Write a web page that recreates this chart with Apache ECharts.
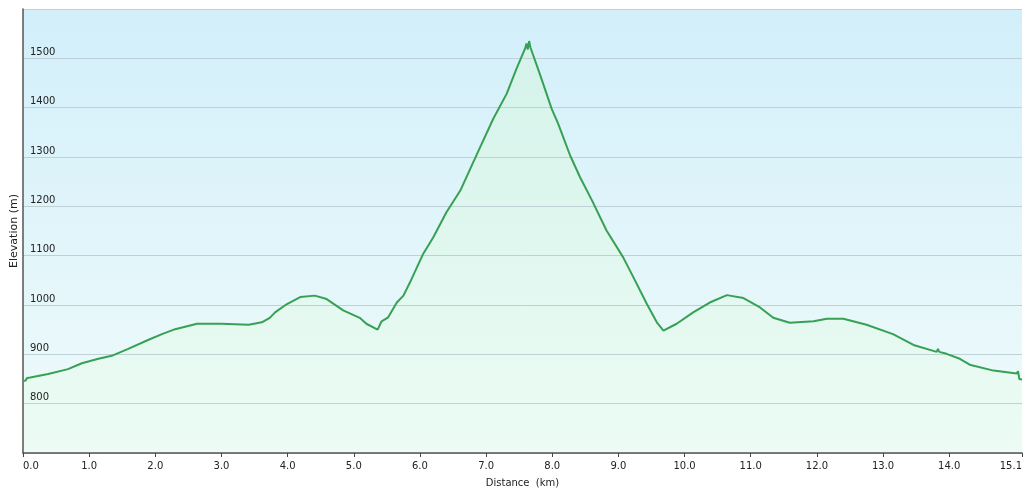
<!DOCTYPE html>
<html>
<head>
<meta charset="utf-8">
<script src="https://cdn.jsdelivr.net/npm/echarts@6/dist/echarts.min.js"></script>
<style>
html,body{margin:0;padding:0;background:#fff;}
#chart{width:1024px;height:493px;}
</style>
</head>
<body>
<div id="chart"></div>
<script>
const distanceKm = [0, 0.04, 0.06, 0.11, 0.38, 0.68, 0.89, 1.14, 1.34, 1.59, 1.89, 2.10, 2.30, 2.63, 3.00, 3.41, 3.61, 3.73, 3.81, 3.99, 4.19, 4.41, 4.59, 4.84, 5.09, 5.19, 5.36, 5.42, 5.52, 5.65, 5.75, 5.85, 6.05, 6.20, 6.40, 6.61, 6.76, 6.91, 7.11, 7.31, 7.46, 7.59, 7.61, 7.63, 7.65, 7.67, 7.69, 7.81, 7.99, 8.09, 8.27, 8.42, 8.60, 8.82, 9.07, 9.25, 9.43, 9.58, 9.68, 9.88, 10.13, 10.38, 10.64, 10.89, 11.14, 11.34, 11.59, 11.95, 12.15, 12.40, 12.75, 13.15, 13.46, 13.81, 13.83, 13.85, 13.96, 14.16, 14.31, 14.67, 15.02, 15.04, 15.06, 15.10];
const elevationM = [846, 847, 852, 853, 860, 870, 882, 891, 897, 911, 929, 941, 951, 962, 962, 960, 965, 974, 985, 1002, 1016, 1019, 1012, 989, 974, 962, 950, 967, 975, 1005, 1019, 1046, 1104, 1137, 1188, 1232, 1276, 1320, 1378, 1428, 1479, 1520, 1530, 1518, 1535, 1522, 1520, 1469, 1398, 1367, 1303, 1259, 1212, 1151, 1097, 1050, 1002, 965, 948, 962, 985, 1005, 1020, 1014, 995, 974, 964, 967, 972, 972, 960, 941, 919, 905, 911, 905, 901, 891, 879, 867, 861, 866, 850, 849];
const xTickValues = [0, 1, 2, 3, 4, 5, 6, 7, 8, 9, 10, 11, 12, 13, 14, 15.1];
const yTickValues = [800, 900, 1000, 1100, 1200, 1300, 1400, 1500];

const chart = echarts.init(document.getElementById('chart'), null, {renderer: 'canvas'});
const pts = distanceKm.map((d, i) => [d, elevationM[i]]);
chart.setOption({
  animation: false,
  grid: {
    left: 23, right: 2, top: 9, bottom: 40,
    outerBoundsMode: 'none',
    containLabel: false,
    show: true,
    borderWidth: 0,
    backgroundColor: new echarts.graphic.LinearGradient(0, 0, 0, 1, [
      {offset: 0, color: '#d2effa'},
      {offset: 1, color: '#f0fbfb'}
    ])
  },
  xAxis: {
    type: 'value', min: 0, max: 15.1, interval: 1,
    name: 'Distance  (km)', nameLocation: 'middle', nameGap: 25,
    nameMoveOverlap: false,
    nameTextStyle: {fontFamily: 'DejaVu Sans', fontSize: 10, color: '#222'},
    axisLine: {lineStyle: {color: '#555', width: 1.5}},
    axisTick: {show: true, length: 4, lineStyle: {color: '#444'}, customValues: xTickValues},
    axisLabel: {
      fontFamily: 'DejaVu Sans', fontSize: 10, color: '#222', margin: 8,
      customValues: xTickValues,
      alignMinLabel: 'left', alignMaxLabel: 'right',
      formatter: v => v.toFixed(1)
    },
    splitLine: {show: false},
    z: 6
  },
  yAxis: {
    type: 'value', min: 700, max: 1600, interval: 100,
    name: 'Elevation (m)', nameLocation: 'middle', nameGap: 9, nameRotate: 90,
    nameMoveOverlap: false,
    nameTextStyle: {fontFamily: 'DejaVu Sans', fontSize: 11, color: '#222', verticalAlign: 'middle', align: 'center'},
    axisLine: {show: true, lineStyle: {color: '#555', width: 1.5}},
    axisTick: {show: false},
    axisLabel: {
      inside: true, margin: 7, verticalAlign: 'bottom', padding: [0, 0, 1, 0],
      fontFamily: 'DejaVu Sans', fontSize: 10, color: '#222',
      customValues: yTickValues,
      formatter: v => String(v)
    },
    splitLine: {show: true, lineStyle: {color: '#c0d1d6', width: 1}},
    z: 4
  },
  series: [{
    type: 'line',
    data: pts,
    showSymbol: false,
    symbol: 'none',
    lineStyle: {width: 0, opacity: 0},
    areaStyle: {
      origin: 'start',
      color: new echarts.graphic.LinearGradient(0, 0, 0, 1, [
        {offset: 0, color: '#d4f4e3'},
        {offset: 1, color: '#ebfcf1'}
      ])
    },
    z: 2
  }, {
    type: 'line',
    data: pts,
    showSymbol: false,
    symbol: 'none',
    lineStyle: {color: '#36a154', width: 2},
    z: 5
  }]
});
</script>
</body>
</html>
